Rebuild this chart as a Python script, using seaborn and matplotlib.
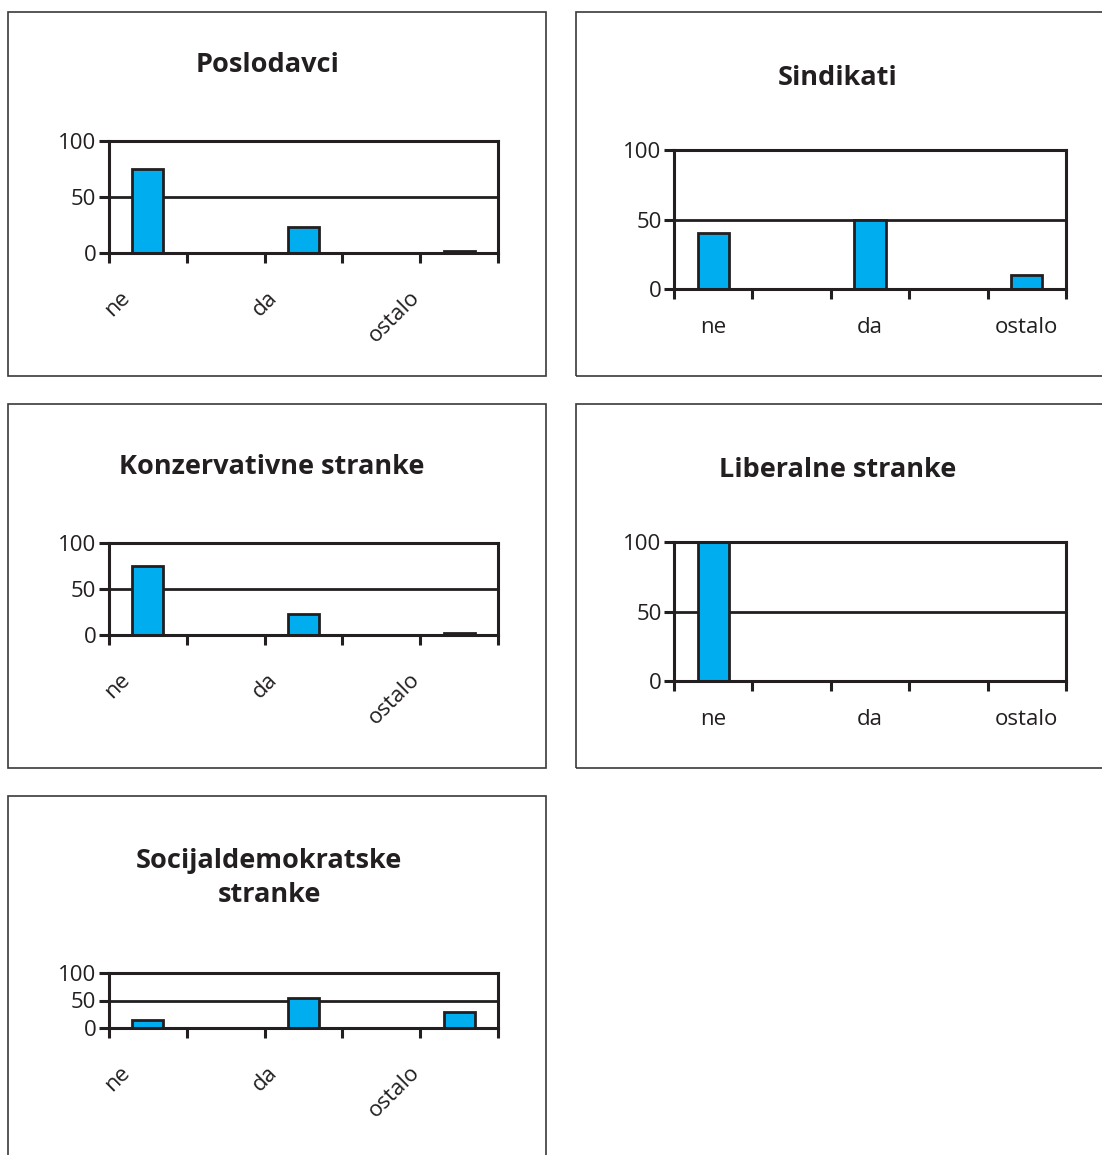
import matplotlib
matplotlib.use("Agg")
import numpy as np
import pandas as pd
import seaborn as sns
from matplotlib import pyplot as plt
from matplotlib.patches import Rectangle
from matplotlib.transforms import ScaledTranslation

# data
categories = ["ne", "da", "ostalo"]
slots = ["ne", "_gap1", "da", "_gap2", "ostalo"]   # excel-style empty slots between categories

titles = ["Poslodavci", "Sindikati", "Konzervativne stranke",
          "Liberalne stranke", "Socijaldemokratske\nstranke"]
poslodavci = [75, 23, 2]
sindikati = [40, 50, 10]
konzervativne = [75, 23, 2]
liberalne = [100, 0, 0]
socijaldemokratske = [15, 55, 30]
all_values = [poslodavci, sindikati, konzervativne, liberalne, socijaldemokratske]
rotated = [True, False, True, False, True]

# layout in pixels (x0, y0, x1, y1 from top-left)
W, H = 1102, 1155
frames = [(8, 12, 546, 376), (576, 12, 1112, 376), (8, 404, 546, 768),
          (576, 404, 1112, 768), (8, 796, 546, 1170)]
axes_px = [(109, 141, 498, 253), (674, 150, 1066, 289), (109, 543, 498, 635),
           (674, 542, 1066, 681), (109, 973, 498, 1028)]
title_xy = [(267, 65), (838, 78), (272, 467), (838, 470), (269, 878)]
rot_shift = [-0.21, -0.29, -0.42]   # inches, where excel puts the slanted labels

INK = "#231f20"
BAR = "#00adef"

sns.set_style("white")
plt.rcParams["font.family"] = ["Open Sans", "DejaVu Sans"]
plt.rcParams["text.color"] = INK


def to_fig(x0, y0, x1, y1):
    return [x0 / W, 1 - y1 / H, (x1 - x0) / W, (y1 - y0) / H]


fig = plt.figure(figsize=(W / 100, H / 100), dpi=100)

for i in range(len(titles)):
    # panel frame
    fx = to_fig(*frames[i])
    fig.patches.append(Rectangle((fx[0], fx[1]), fx[2], fx[3], transform=fig.transFigure,
                                 fill=False, edgecolor="#3a3a3a", lw=1.2))
    fig.text(title_xy[i][0] / W, 1 - title_xy[i][1] / H, titles[i], ha="center", va="center",
             fontsize=19.5, fontweight="bold", linespacing=1.45)

    ax = fig.add_axes(to_fig(*axes_px[i]))
    df = pd.DataFrame({"odgovor": categories, "posto": all_values[i]})
    sns.barplot(data=df, x="odgovor", y="posto", order=slots, color=BAR, saturation=1,
                width=0.4, edgecolor=INK, linewidth=2, ax=ax)

    ax.set_xlim(-0.5, 4.5)
    ax.set_ylim(0, 100)
    ax.set_yticks([0, 50, 100])
    ax.set_xlabel("")
    ax.set_ylabel("")
    ax.yaxis.grid(True, color=INK, lw=2)
    ax.set_axisbelow(True)
    for s in ax.spines.values():
        s.set_visible(True)
        s.set_color(INK)
        s.set_linewidth(2.2)

    ax.set_xticks(np.arange(-0.5, 5, 1))
    ax.set_xticklabels([])
    ax.set_xticks([0, 2, 4], minor=True)
    ax.tick_params(axis="x", which="major", bottom=True, direction="out", length=7,
                   width=2.2, color=INK)
    ax.tick_params(axis="y", left=True, direction="out", length=7, width=2.2, color=INK,
                   labelsize=16, labelcolor=INK, pad=2)
    if rotated[i]:
        labels = ax.set_xticklabels(categories, minor=True, rotation=45, ha="right",
                                    va="center", rotation_mode="anchor", fontsize=16, color=INK)
        ax.tick_params(axis="x", which="minor", bottom=True, length=0, pad=30)
        for lab, dx in zip(labels, rot_shift):
            lab.set_transform(lab.get_transform() + ScaledTranslation(dx, 0, fig.dpi_scale_trans))
    else:
        ax.set_xticklabels(categories, minor=True, fontsize=16, color=INK)
        ax.tick_params(axis="x", which="minor", bottom=True, length=0, pad=20)

fig.savefig("out.png", dpi=100)
